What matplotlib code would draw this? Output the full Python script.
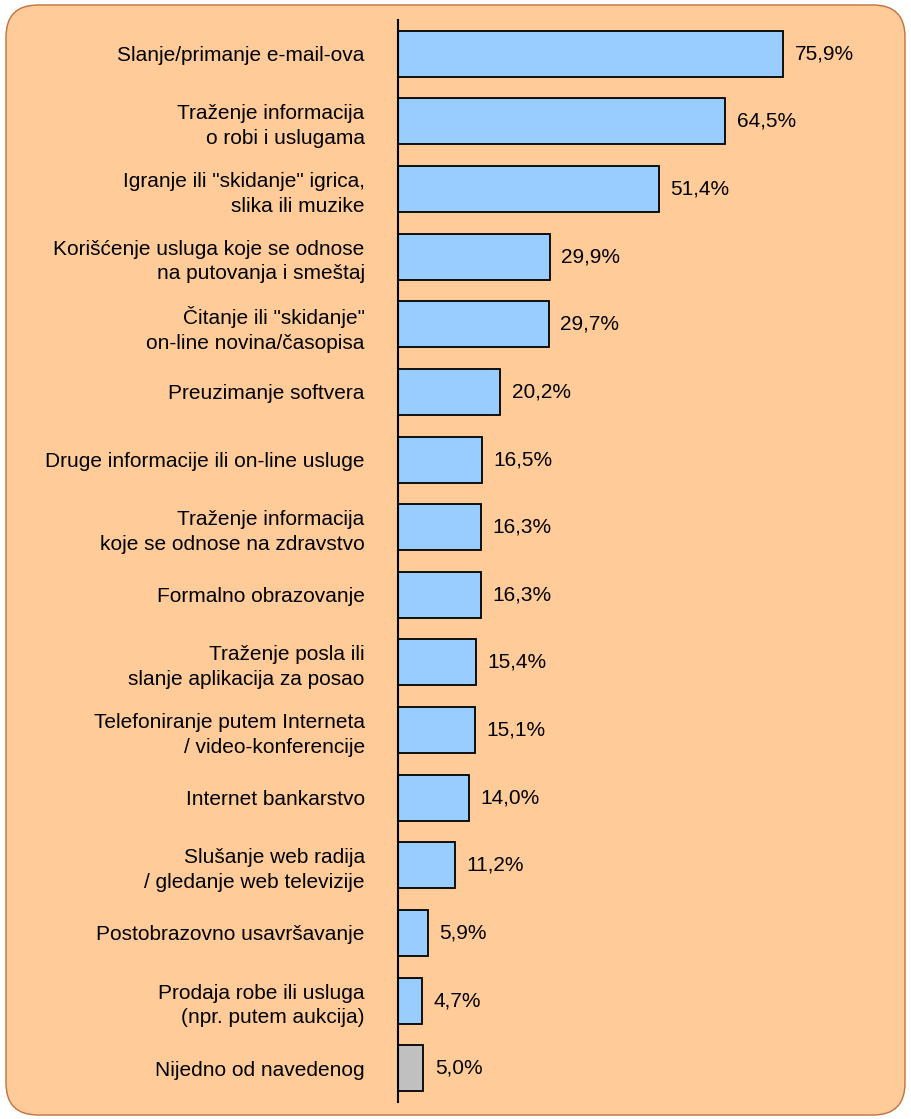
import matplotlib
matplotlib.use('Agg')
import matplotlib.pyplot as plt
from matplotlib.patches import FancyBboxPatch

plt.rcParams['font.family'] = ['Liberation Sans', 'DejaVu Sans']

# Data
categories = [
    'Slanje/primanje e-mail-ova',
    'Traženje informacija\no robi i uslugama',
    'Igranje ili "skidanje" igrica,\nslika ili muzike',
    'Korišćenje usluga koje se odnose\nna putovanja i smeštaj',
    'Čitanje ili "skidanje"\non-line novina/časopisa',
    'Preuzimanje softvera',
    'Druge informacije ili on-line usluge',
    'Traženje informacija\nkoje se odnose na zdravstvo',
    'Formalno obrazovanje',
    'Traženje posla ili\nslanje aplikacija za posao',
    'Telefoniranje putem Interneta\n/ video-konferencije',
    'Internet bankarstvo',
    'Slušanje web radija\n/ gledanje web televizije',
    'Postobrazovno usavršavanje',
    'Prodaja robe ili usluga\n(npr. putem aukcija)',
    'Nijedno od navedenog',
]
values = [75.9, 64.5, 51.4, 29.9, 29.7, 20.2, 16.5, 16.3, 16.3, 15.4, 15.1,
          14.0, 11.2, 5.9, 4.7, 5.0]
value_labels = ['75,9%', '64,5%', '51,4%', '29,9%', '29,7%', '20,2%', '16,5%',
                '16,3%', '16,3%', '15,4%', '15,1%', '14,0%', '11,2%', '5,9%',
                '4,7%', '5,0%']

W, H = 911, 1119
fig = plt.figure(figsize=(W / 100, H / 100), dpi=100)
fig.patch.set_facecolor('white')

# rounded background panel
bg = FancyBboxPatch((6 / W, 4 / H), (W - 12) / W, (H - 9) / H,
                    boxstyle='round,pad=0,rounding_size=0.035',
                    transform=fig.transFigure, facecolor='#FFCC99',
                    edgecolor='#C0703C', linewidth=1.0, mutation_aspect=W / H,
                    zorder=-10)
fig.patches.append(bg)

left = 398 / W
right = (398 + 5.07 * 100) / W
top = 1 - 20 / H
bottom = 1 - 1102 / H
ax = fig.add_axes([left, bottom, right - left, top - bottom])
ax.set_facecolor('none')

colors = ['#99CCFF'] * (len(values) - 1) + ['#C0C0C0']
y = list(range(len(values)))
ax.barh(y, values, height=0.68, color=colors, edgecolor='black',
        linewidth=1.3, zorder=3)

for yi, v, lab in zip(y, values, value_labels):
    ax.text(v + 2.3, yi, lab, va='center', ha='left', fontsize=15)

ax.set_xlim(0, 100)
ax.set_ylim(len(values) - 0.5, -0.5)
ax.set_yticks(y)
ax.set_yticklabels(categories, fontsize=15, linespacing=1.38, ha='right')
ax.tick_params(axis='y', length=0, pad=24)
ax.set_xticks([])
for s in ['top', 'right', 'bottom']:
    ax.spines[s].set_visible(False)
ax.spines['left'].set_linewidth(1.5)
ax.spines['left'].set_zorder(4)

fig.savefig('out.png', dpi=100, facecolor=fig.get_facecolor())
